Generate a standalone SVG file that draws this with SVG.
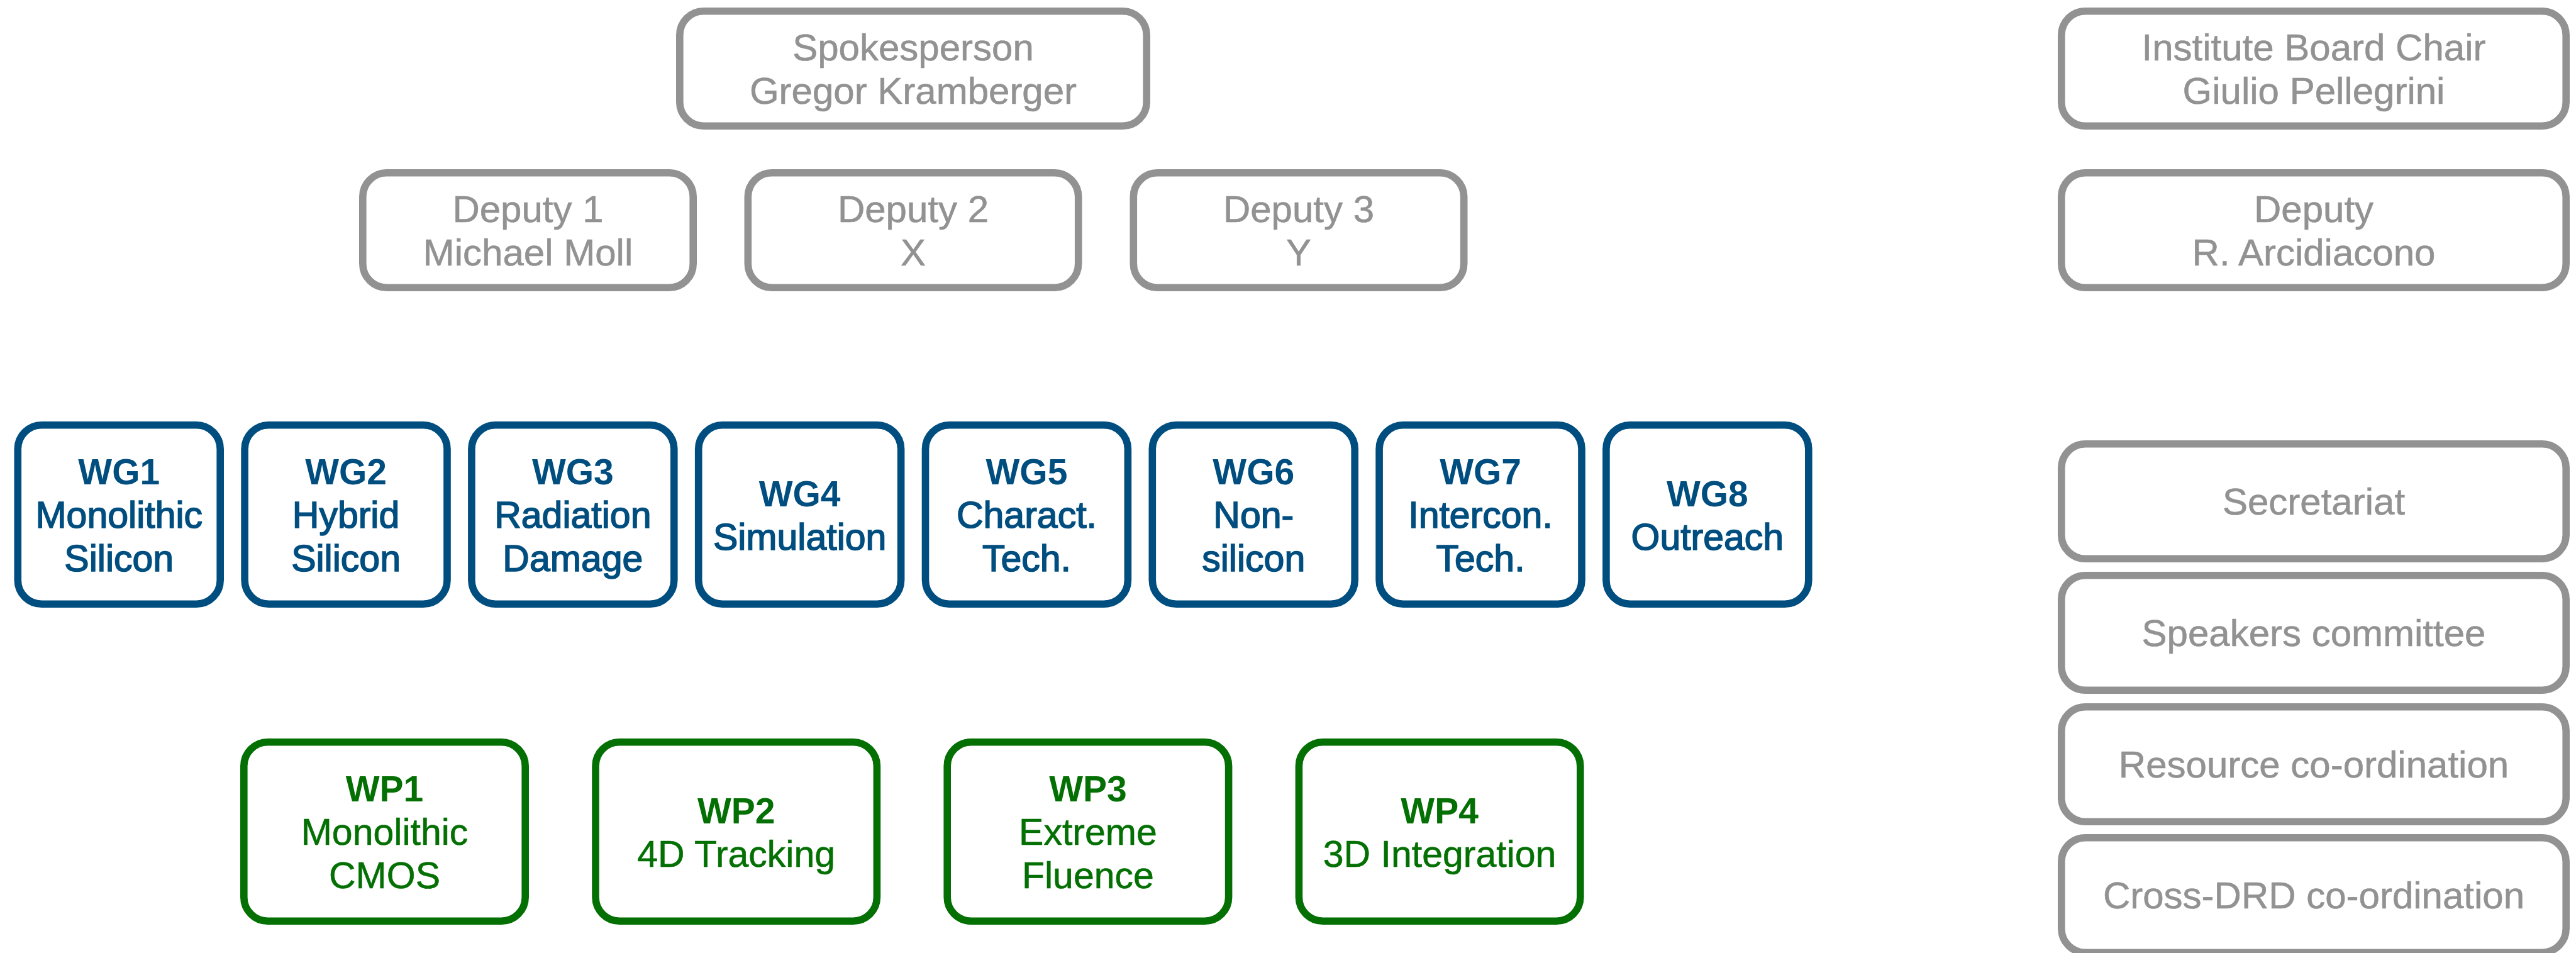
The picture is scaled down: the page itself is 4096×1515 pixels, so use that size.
<svg xmlns="http://www.w3.org/2000/svg" width="4096" height="1515" viewBox="0 0 4096 1515">
  <style>
    .box { fill: #ffffff; stroke-width: 11.6; }
    .gray { stroke: #929292; }
    .blue { stroke: #004e7f; }
    .green { stroke: #047004; }
    text { font-family: "Liberation Sans", Arial, Helvetica, sans-serif; text-anchor: middle; }
    .tg { fill: #929292; font-size: 60px; stroke: #929292; stroke-width: 0.6; }
    .tb { fill: #004e7f; font-size: 59px; }
    .tb.med { stroke: #004e7f; stroke-width: 1.6; }
    .tgr { fill: #047004; font-size: 59px; stroke: #047004; stroke-width: 0.6; }
    .ttl { font-weight: bold; font-size: 57px; stroke-width: 0; }
  </style>
  <rect x="0" y="0" width="4096" height="1515" fill="#ffffff"/>

  <!-- leadership -->
  <g id="spokesperson">
    <rect class="box gray" x="1080.8" y="17.8" width="742.4" height="182.4" rx="38"/>
    <text class="tg" x="1452" y="95.5">Spokesperson</text>
    <text class="tg" x="1452" y="164.5">Gregor Kramberger</text>
  </g>
  <g id="deputy1">
    <rect class="box gray" x="576.8" y="274.8" width="525.4" height="182.4" rx="38"/>
    <text class="tg" x="839.5" y="352.5">Deputy 1</text>
    <text class="tg" x="839.5" y="421.5">Michael Moll</text>
  </g>
  <g id="deputy2">
    <rect class="box gray" x="1189.3" y="274.8" width="525.4" height="182.4" rx="38"/>
    <text class="tg" x="1452" y="352.5">Deputy 2</text>
    <text class="tg" x="1452" y="421.5">X</text>
  </g>
  <g id="deputy3">
    <rect class="box gray" x="1802.3" y="274.8" width="525.4" height="182.4" rx="38"/>
    <text class="tg" x="2065" y="352.5">Deputy 3</text>
    <text class="tg" x="2065" y="421.5">Y</text>
  </g>

  <!-- institute board column -->
  <g id="ib-chair">
    <rect class="box gray" x="3277.8" y="17.8" width="802.4" height="182.4" rx="38"/>
    <text class="tg" x="3679" y="95.5">Institute Board Chair</text>
    <text class="tg" x="3679" y="164.5">Giulio Pellegrini</text>
  </g>
  <g id="ib-deputy">
    <rect class="box gray" x="3277.8" y="274.8" width="802.4" height="182.4" rx="38"/>
    <text class="tg" x="3679" y="352.5">Deputy</text>
    <text class="tg" x="3679" y="421.5">R. Arcidiacono</text>
  </g>
  <g id="secretariat">
    <rect class="box gray" x="3277.8" y="705.8" width="802.4" height="182.4" rx="38"/>
    <text class="tg" x="3679" y="818">Secretariat</text>
  </g>
  <g id="speakers">
    <rect class="box gray" x="3277.8" y="914.8" width="802.4" height="182.4" rx="38"/>
    <text class="tg" x="3679" y="1027">Speakers committee</text>
  </g>
  <g id="resources">
    <rect class="box gray" x="3277.8" y="1123.8" width="802.4" height="182.4" rx="38"/>
    <text class="tg" x="3679" y="1235.5">Resource co-ordination</text>
  </g>
  <g id="cross-drd">
    <rect class="box gray" x="3277.8" y="1331.8" width="802.4" height="182.4" rx="38"/>
    <text class="tg" x="3679" y="1444">Cross-DRD co-ordination</text>
  </g>

  <!-- working groups -->
  <g id="wg1">
    <rect class="box blue" x="28.3" y="675.8" width="321.9" height="284.4" rx="38"/>
    <text class="tb ttl" x="189.25" y="770">WG1</text>
    <text class="tb med" x="189.25" y="839">Monolithic</text>
    <text class="tb med" x="189.25" y="908">Silicon</text>
  </g>
  <g id="wg2">
    <rect class="box blue" x="389.1" y="675.8" width="321.9" height="284.4" rx="38"/>
    <text class="tb ttl" x="550.05" y="770">WG2</text>
    <text class="tb med" x="550.05" y="839">Hybrid</text>
    <text class="tb med" x="550.05" y="908">Silicon</text>
  </g>
  <g id="wg3">
    <rect class="box blue" x="749.9" y="675.8" width="321.9" height="284.4" rx="38"/>
    <text class="tb ttl" x="910.85" y="770">WG3</text>
    <text class="tb med" x="910.85" y="839">Radiation</text>
    <text class="tb med" x="910.85" y="908">Damage</text>
  </g>
  <g id="wg4">
    <rect class="box blue" x="1110.7" y="675.8" width="321.9" height="284.4" rx="38"/>
    <text class="tb ttl" x="1271.65" y="804.5">WG4</text>
    <text class="tb med" x="1271.65" y="873.5">Simulation</text>
  </g>
  <g id="wg5">
    <rect class="box blue" x="1471.5" y="675.8" width="321.9" height="284.4" rx="38"/>
    <text class="tb ttl" x="1632.45" y="770">WG5</text>
    <text class="tb med" x="1632.45" y="839">Charact.</text>
    <text class="tb med" x="1632.45" y="908">Tech.</text>
  </g>
  <g id="wg6">
    <rect class="box blue" x="1832.3" y="675.8" width="321.9" height="284.4" rx="38"/>
    <text class="tb ttl" x="1993.25" y="770">WG6</text>
    <text class="tb med" x="1993.25" y="839">Non-</text>
    <text class="tb med" x="1993.25" y="908">silicon</text>
  </g>
  <g id="wg7">
    <rect class="box blue" x="2193.1" y="675.8" width="321.9" height="284.4" rx="38"/>
    <text class="tb ttl" x="2354.05" y="770">WG7</text>
    <text class="tb med" x="2354.05" y="839">Intercon.</text>
    <text class="tb med" x="2354.05" y="908">Tech.</text>
  </g>
  <g id="wg8">
    <rect class="box blue" x="2553.9" y="675.8" width="321.9" height="284.4" rx="38"/>
    <text class="tb ttl" x="2714.85" y="804.5">WG8</text>
    <text class="tb med" x="2714.85" y="873.5">Outreach</text>
  </g>

  <!-- work packages -->
  <g id="wp1">
    <rect class="box green" x="387.8" y="1179.8" width="447.4" height="284.4" rx="38"/>
    <text class="tgr ttl" x="611.5" y="1274">WP1</text>
    <text class="tgr" x="611.5" y="1343">Monolithic</text>
    <text class="tgr" x="611.5" y="1412">CMOS</text>
  </g>
  <g id="wp2">
    <rect class="box green" x="947" y="1179.8" width="447.4" height="284.4" rx="38"/>
    <text class="tgr ttl" x="1170.7" y="1308.5">WP2</text>
    <text class="tgr" x="1170.7" y="1377.5">4D Tracking</text>
  </g>
  <g id="wp3">
    <rect class="box green" x="1506.2" y="1179.8" width="447.4" height="284.4" rx="38"/>
    <text class="tgr ttl" x="1729.9" y="1274">WP3</text>
    <text class="tgr" x="1729.9" y="1343">Extreme</text>
    <text class="tgr" x="1729.9" y="1412">Fluence</text>
  </g>
  <g id="wp4">
    <rect class="box green" x="2065.4" y="1179.8" width="447.4" height="284.4" rx="38"/>
    <text class="tgr ttl" x="2289.1" y="1308.5">WP4</text>
    <text class="tgr" x="2289.1" y="1377.5">3D Integration</text>
  </g>

  <!-- the chart has no connecting lines -->
  <g id="connectors"/>
</svg>
